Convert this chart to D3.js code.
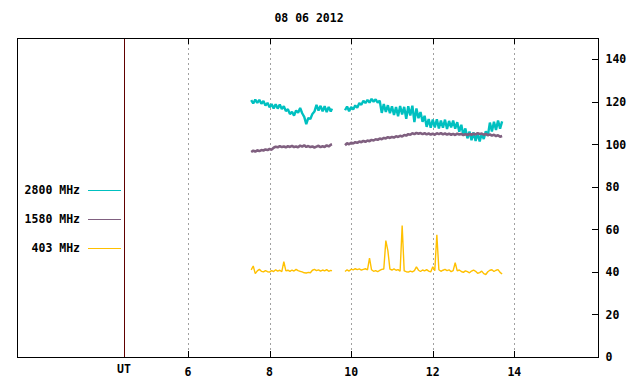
<!DOCTYPE html>
<html>
<head>
<meta charset="utf-8">
<script src="https://cdn.jsdelivr.net/npm/d3@7"></script>
<style>
body{margin:0;background:#fff}
text{font-family:"DejaVu Sans Mono",monospace;font-weight:bold;font-size:11.5px;fill:#000}
</style>
</head>
<body>
<div id="chart"></div>
<script>
var w=640,h=384;

var title="08 06 2012";
var xTicks=[6,8,10,12,14];
var yTicks=[0,20,40,60,80,100,120,140];
var utHour=4.43;

// sample times (UT hours), morning and afternoon pieces
var t1=[7.55,7.60,7.65,7.70,7.75,7.80,7.85,7.90,7.95,8.00,8.05,8.10,8.15,8.20,8.25,8.30,8.35,8.40,8.45,8.50,
8.55,8.60,8.65,8.70,8.75,8.80,8.85,8.90,8.95,9.00,9.05,9.10,9.15,9.20,9.25,9.30,9.35,9.40,9.45,9.50,9.53];
var t2=[9.85,9.90,9.95,10.00,10.05,10.10,10.15,10.20,10.25,10.30,10.35,10.40,10.45,10.50,10.55,10.60,10.65,10.70,10.75,10.80,
10.85,10.90,10.95,11.00,11.05,11.10,11.15,11.20,11.25,11.30,11.35,11.40,11.45,11.50,11.55,11.60,11.65,11.70,11.75,11.80,
11.85,11.90,11.95,12.00,12.05,12.10,12.15,12.20,12.25,12.30,12.35,12.40,12.45,12.50,12.55,12.60,12.65,12.70,12.75,12.80,
12.85,12.90,12.95,13.00,13.05,13.10,13.15,13.20,13.25,13.30,13.35,13.40,13.45,13.50,13.55,13.60,13.65,13.70];

// 2800 MHz
var f2800a=[120.8,119.2,121.0,119.5,120.9,119.1,120.4,118.2,119.5,117.4,118.9,116.9,118.8,116.8,118.7,116.6,117.9,115.6,116.5,114.2,
115.3,113.5,115.9,114.9,117.1,114.6,112.9,109.5,112.4,111.9,114.3,115.4,118.6,115.9,118.1,115.5,117.9,115.2,117.6,115.4,116.8];
var f2800b=[116.0,117.8,115.6,117.5,116.4,118.3,117.2,119.4,118.6,120.5,119.4,120.9,119.6,121.4,120.0,121.2,119.6,120.5,114.8,118.9,
115.2,118.4,114.6,117.9,113.8,117.5,113.2,118.0,114.1,117.6,112.0,117.9,113.6,118.2,110.5,116.9,112.3,115.2,110.6,113.4,
108.2,111.9,107.8,111.6,107.9,111.8,107.5,111.2,107.8,111.6,107.2,111.0,108.0,111.2,107.4,110.4,105.9,109.2,104.3,107.5,
102.8,106.0,101.9,105.6,101.6,105.2,101.4,105.0,102.5,106.1,104.0,110.2,106.0,110.6,106.8,111.2,107.4,110.8];

// 1580 MHz
var f1580a=[96.4,97.0,96.6,97.2,96.8,97.3,97.1,97.6,97.3,97.8,97.5,98.4,98.9,98.6,99.2,98.7,99.0,98.6,99.1,98.8,
99.3,98.7,99.0,98.6,99.4,98.9,99.6,98.8,99.2,98.7,99.0,98.5,98.9,99.3,98.7,99.1,98.8,99.5,99.0,99.8,100.0];
var f1580b=[99.6,100.5,100.0,100.8,100.4,101.0,100.7,101.3,101.0,101.6,101.2,101.8,101.5,102.1,101.8,102.4,102.1,102.7,102.4,103.0,
102.8,103.4,103.0,103.5,103.2,103.8,103.5,104.0,103.7,104.4,104.1,104.8,104.5,105.2,104.8,105.4,105.0,105.3,104.8,105.2,
104.7,105.1,104.6,105.0,104.5,105.2,104.8,105.3,104.7,105.1,104.6,105.0,104.5,104.9,104.4,105.0,104.6,104.9,104.3,104.8,
104.4,104.9,104.5,105.0,104.6,105.3,104.8,105.1,104.5,104.9,104.3,104.7,104.1,104.5,103.9,104.3,103.6,103.9];

// 403 MHz
var f403a=[41.0,42.8,39.2,40.5,41.2,40.3,40.0,40.6,40.1,39.9,40.6,40.2,41.0,40.4,40.8,40.1,44.8,40.5,40.8,40.3,
40.9,40.4,41.2,40.6,40.3,40.0,39.6,39.5,39.8,39.6,40.8,41.2,40.6,41.0,40.4,40.9,40.5,41.1,40.3,40.7,40.5];
var f403b=[40.2,41.0,40.4,41.3,41.0,41.5,41.1,41.4,40.9,41.2,41.5,41.0,46.5,41.0,40.3,40.6,40.1,40.7,41.2,41.4,
54.7,50.0,41.3,40.9,41.4,40.8,41.1,40.3,61.8,40.5,40.1,39.9,40.4,40.0,40.6,42.4,40.8,40.2,40.9,40.5,
41.1,40.4,40.0,42.4,40.6,57.5,41.0,40.3,40.8,41.2,40.6,41.0,40.1,40.6,44.3,40.5,40.9,40.2,39.8,40.5,
40.1,39.6,40.4,40.9,40.3,39.4,39.7,40.4,39.2,38.8,40.1,40.8,41.0,40.2,40.8,41.1,39.8,39.0];

var series=[
  {name:"2800 MHz",color:"#00c0c0",parts:[[t1,f2800a],[t2,f2800b]],ly:190,sw:2.4},
  {name:"1580 MHz",color:"#806080",parts:[[t1,f1580a],[t2,f1580b]],ly:219,sw:2.6},
  {name:"403 MHz",color:"#ffc000",parts:[[t1,f403a],[t2,f403b]],ly:248,sw:1.4}
];

var pl=17,pr=598,pt=38,pb=357;

var x=d3.scaleLinear().domain([1.81,16.05]).range([pl,pr]);
var y=d3.scaleLinear().domain([0,150]).range([pb,pt]);

var svg=d3.select("#chart").append("svg")
  .attr("width",w).attr("height",h);

svg.append("text")
  .attr("x",309).attr("y",22)
  .attr("text-anchor","middle")
  .text(title);

// dashed grid
svg.selectAll("line.grid").data(xTicks).enter().append("line")
  .attr("class","grid")
  .attr("x1",function(d){return Math.round(x(d))+0.5})
  .attr("x2",function(d){return Math.round(x(d))+0.5})
  .attr("y1",pt).attr("y2",pb)
  .style("stroke","#a0a0a0")
  .style("stroke-dasharray","2,3");

// tick marks top and bottom
xTicks.forEach(function(d){
  var xx=Math.round(x(d))+0.5;
  svg.append("line").attr("x1",xx).attr("x2",xx).attr("y1",pt).attr("y2",pt+6).style("stroke","#000");
  svg.append("line").attr("x1",xx).attr("x2",xx).attr("y1",pb-6).attr("y2",pb).style("stroke","#000");
});

svg.selectAll("text.xl").data(xTicks).enter().append("text")
  .attr("class","xl")
  .attr("x",function(d){return x(d)})
  .attr("y",376)
  .attr("text-anchor","middle")
  .text(function(d){return d});

// UT marker
svg.append("line")
  .attr("x1",Math.round(x(utHour))+0.5).attr("x2",Math.round(x(utHour))+0.5)
  .attr("y1",pt).attr("y2",pb)
  .style("stroke","#600000");
svg.append("text")
  .attr("x",x(utHour)).attr("y",373)
  .attr("text-anchor","middle")
  .text("UT");

// right axis
var yAxis=d3.axisRight(y).tickValues(yTicks).tickSize(0).tickPadding(7);
var ya=svg.append("g").attr("transform","translate("+(pr+0.5)+",0)").call(yAxis);
ya.select(".domain").remove();
ya.selectAll("text").style("font-family","DejaVu Sans Mono, monospace").style("font-size","11.5px").style("font-weight","bold");
yTicks.forEach(function(d){
  var yy=Math.round(y(d))+0.5;
  svg.append("line").attr("x1",pr-6).attr("x2",pr).attr("y1",yy).attr("y2",yy).style("stroke","#000");
});

// data
var line=d3.line()
  .x(function(d){return x(d[0])})
  .y(function(d){return y(d[1])});

series.forEach(function(s){
  s.parts.forEach(function(p){
    var pts=d3.zip(p[0],p[1]);
    svg.append("path")
      .datum(pts)
      .attr("d",line)
      .style("fill","none")
      .style("stroke",s.color)
      .style("stroke-width",s.sw)
      .style("stroke-linejoin","bevel");
  });
});

// legend
series.forEach(function(s){
  svg.append("text")
    .attr("x",80).attr("y",s.ly+4)
    .attr("text-anchor","end")
    .text(s.name);
  svg.append("line")
    .attr("x1",88).attr("x2",121)
    .attr("y1",s.ly+0.5).attr("y2",s.ly+0.5)
    .style("stroke",s.color);
});

// frame
svg.append("rect")
  .attr("x",pl+0.5).attr("y",pt+0.5)
  .attr("width",pr-pl).attr("height",pb-pt)
  .style("fill","none").style("stroke","#000");
</script>
</body>
</html>
